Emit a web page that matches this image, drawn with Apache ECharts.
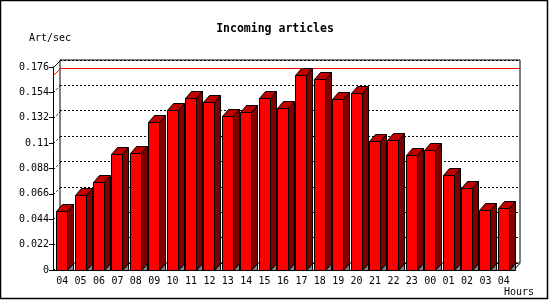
<!DOCTYPE html>
<html>
<head>
<meta charset="utf-8">
<script src="https://cdn.jsdelivr.net/npm/echarts@6/dist/echarts.min.js"></script>
<style>
  html, body { margin: 0; padding: 0; background: #fff; }
  #chart { width: 550px; height: 300px; }
</style>
</head>
<body>
<div id="chart"></div>
<script>
// hourly incoming articles (art/sec)
var hours = ['04','05','06','07','08','09','10','11','12','13','14','15','16',
             '17','18','19','20','21','22','23','00','01','02','03','04'];
var rates = [0.0509, 0.0648, 0.0760, 0.1003, 0.1012, 0.1281, 0.1385, 0.1489,
             0.1454, 0.1333, 0.1367, 0.1489, 0.1402, 0.1691, 0.1653, 0.1480,
             0.1532, 0.1116, 0.1127, 0.0994, 0.1040, 0.0821, 0.0708, 0.0518, 0.0535];
var yTicks = [0, 0.022, 0.044, 0.066, 0.088, 0.11, 0.132, 0.154, 0.176];

var FONT = 'DejaVu Sans Mono';
var DX = 7, DY = 7;       // depth of the back wall
var BDX = 6, BDY = 7;     // depth of each bar

var maxRate = Math.max.apply(null, rates);

function renderBar(params, api) {
    var i = api.value(0), v = api.value(1);
    var top = api.coord([i, v]);
    var base = api.coord([i, 0]);
    var bw = api.size([1, 0])[0];
    var w = Math.round(bw * 0.6);
    var x0 = Math.round(top[0] - w / 2 - 0.5) + 0.5, x1 = x0 + w;
    var yT = Math.round(top[1]) + 0.5, yB = Math.round(base[1]) + 0.5;
    return {
        type: 'group',
        children: [
            { type: 'polygon', shape: { points: [[x1, yB], [x1 + BDX, yB - BDY], [x1 + BDX, yB]] },
              style: { fill: '#808080', stroke: '#000', lineWidth: 1 } },
            { type: 'polygon', shape: { points: [[x1, yT], [x1 + BDX, yT - BDY], [x1 + BDX, yB - BDY], [x1, yB]] },
              style: { fill: '#800000', stroke: '#000', lineWidth: 1 } },
            { type: 'polygon', shape: { points: [[x0, yT], [x0 + BDX, yT - BDY], [x1 + BDX, yT - BDY], [x1, yT]] },
              style: { fill: '#c00000', stroke: '#000', lineWidth: 1 } },
            { type: 'rect', shape: { x: x0, y: yT, width: w, height: yB - yT },
              style: { fill: '#ff0000', stroke: '#000', lineWidth: 1 } }
        ]
    };
}

// side wall diagonals, floor corner and the max line on the back wall
function renderFrame(params, api) {
    var cs = params.coordSys;
    var xl = cs.x + 0.5, xr = cs.x + cs.width;
    var kids = [];
    yTicks.forEach(function (t, k) {
        var y = Math.round(api.coord([0, t])[1]) + 0.5;
        var last = k === yTicks.length - 1;
        kids.push({ type: 'line', shape: { x1: xl, y1: y, x2: xl + DX, y2: y - DY },
            style: { stroke: '#000', lineWidth: 1, lineDash: last ? null : [2, 2] } });
    });
    var yb = Math.round(api.coord([0, 0])[1]) + 0.5;
    kids.push({ type: 'line', shape: { x1: xr, y1: yb, x2: xr + DX, y2: yb - DY },
        style: { stroke: '#000', lineWidth: 1 } });
    var ym = Math.round(api.coord([0, maxRate])[1]) + 0.5;
    kids.push({ type: 'polyline', shape: { points: [[xl, ym], [xl + DX, ym - DY], [xr + DX, ym - DY]] },
        style: { stroke: '#ff0000', lineWidth: 1, fill: null } });
    return { type: 'group', children: kids };
}

var myChart = echarts.init(document.getElementById('chart'));
var option = {
    backgroundColor: '#fff',
    animation: false,
    title: {
        text: 'Incoming articles',
        left: 'center',
        top: 18,
        textStyle: { fontFamily: FONT, fontSize: 11.5, fontWeight: 'bold', color: '#000' }
    },
    graphic: [
        { type: 'rect', shape: { x: 0.5, y: 0.5, width: 547, height: 298 },
          style: { fill: null, stroke: '#000', lineWidth: 1.5 } },
        { type: 'text', left: 29, top: 33,
          style: { text: 'Art/sec', font: '10px "' + FONT + '"', fill: '#000' } },
        { type: 'text', left: 504, top: 287,
          style: { text: 'Hours', font: '10px "' + FONT + '"', fill: '#000' } }
    ],
    grid: [
        { left: 53, right: 37, top: 67, bottom: 30 },
        { left: 60, right: 30, top: 60, bottom: 37, show: true,
          borderColor: '#000', borderWidth: 1, backgroundColor: 'transparent', z: 0 }
    ],
    xAxis: [
        {
            type: 'category', gridIndex: 0, data: hours,
            axisLine: { lineStyle: { color: '#000', width: 1 } },
            axisTick: { interval: 0, length: 4, lineStyle: { color: '#000' } },
            axisLabel: { interval: 0, margin: 6, color: '#000', fontFamily: FONT, fontSize: 10 }
        },
        { type: 'category', gridIndex: 1, data: hours, show: false }
    ],
    yAxis: [
        {
            type: 'value', gridIndex: 0, min: 0, max: 0.176, interval: 0.022,
            axisLine: { show: true, lineStyle: { color: '#000', width: 1 } },
            axisTick: { show: true, length: 4, lineStyle: { color: '#000' } },
            axisLabel: { margin: 4, color: '#000', fontFamily: FONT, fontSize: 10,
                formatter: function (v) { return String(+v.toFixed(3)); } },
            splitLine: { show: false }
        },
        {
            type: 'value', gridIndex: 1, min: 0, max: 0.176, interval: 0.022,
            axisLine: { show: false }, axisTick: { show: false }, axisLabel: { show: false },
            splitLine: { show: true, lineStyle: { color: '#000', width: 1, type: [2, 2] } }
        }
    ],
    series: [
        {
            type: 'custom', name: 'frame', xAxisIndex: 0, yAxisIndex: 0, z: 1,
            renderItem: renderFrame, data: [[0, 0]], silent: true
        },
        {
            type: 'custom', name: 'Incoming articles', xAxisIndex: 0, yAxisIndex: 0, z: 2,
            renderItem: renderBar,
            data: rates.map(function (v, i) { return [i, v]; })
        }
    ]
};
myChart.setOption(option);
</script>
</body>
</html>
